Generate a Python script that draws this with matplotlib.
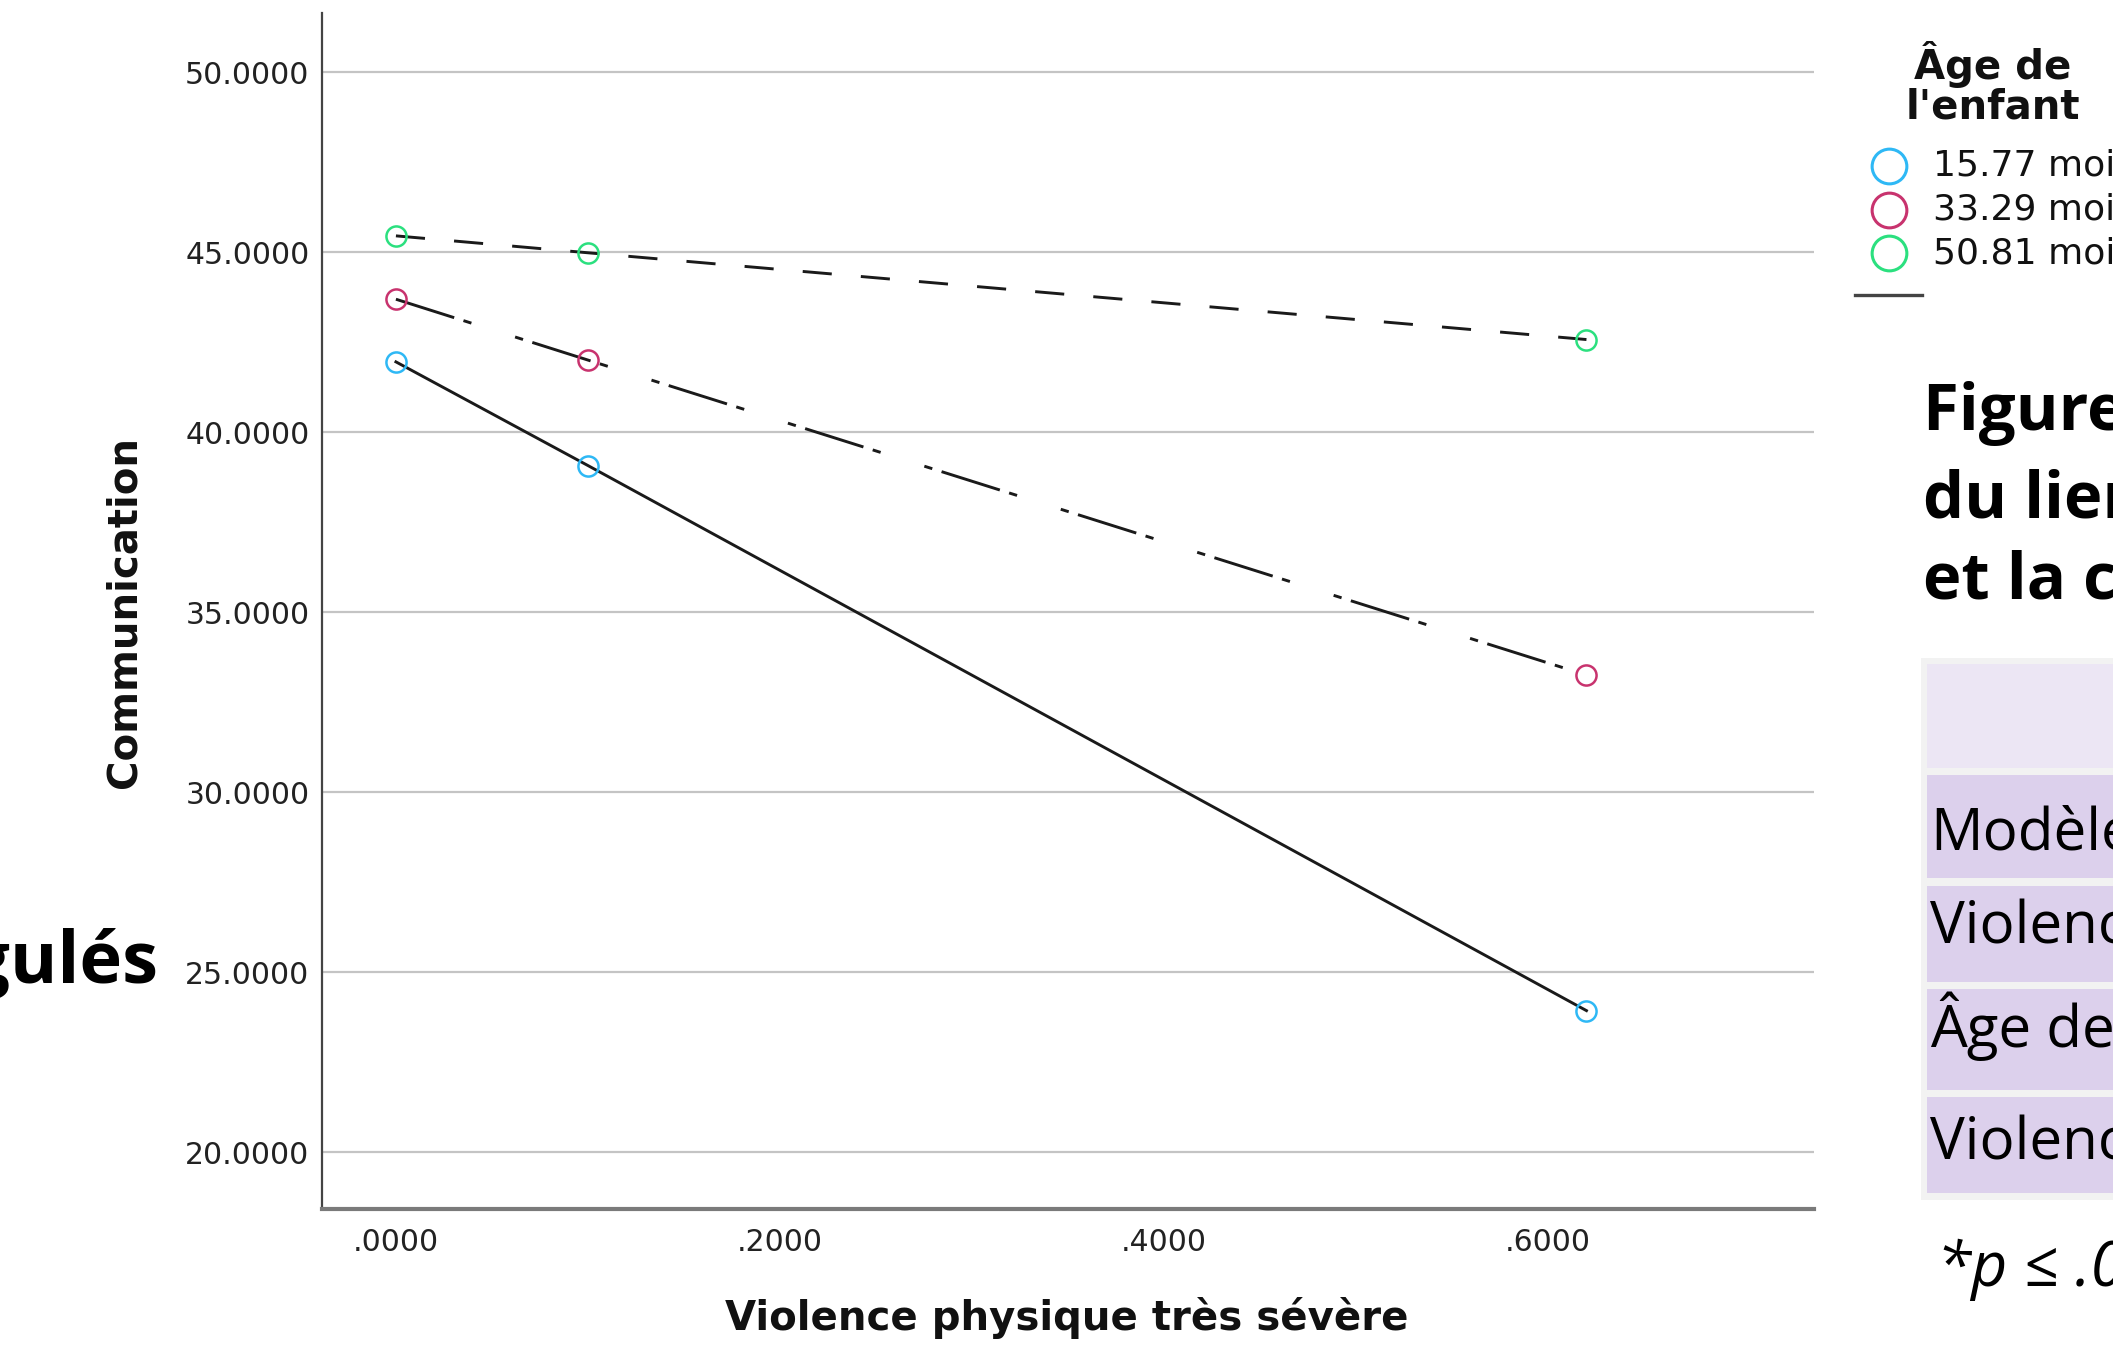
import matplotlib
matplotlib.use("Agg")
import matplotlib.pyplot as plt
from matplotlib.patches import Rectangle
from matplotlib.lines import Line2D

plt.rcParams['lines.scale_dashes'] = False

# ---------------- data ----------------
x_values = [0.0, 0.1, 0.62]
series_labels = ["15.77 mois", "33.29 mois", "50.81 mois"]
age_15 = [41.95, 39.07, 23.93]
age_33 = [43.69, 42.00, 33.25]
age_50 = [45.45, 44.98, 42.57]
y_ticks = [20, 25, 30, 35, 40, 45, 50]
y_tick_labels = ["20.0000", "25.0000", "30.0000", "35.0000", "40.0000", "45.0000", "50.0000"]
x_ticks = [0.0, 0.2, 0.4, 0.6]
x_tick_labels = [".0000", ".2000", ".4000", ".6000"]
table_rows = ["Modèle", "Violence physique très sévère", "Âge de l'enfant", "Violence × Âge"]

W, H = 2113, 1348
fig = plt.figure(figsize=(W / 100, H / 100), dpi=100)


def fx(x):
    return x / W


def fy(y):
    return 1 - y / H


colors = ['#2EB8F5', '#C8336E', '#2BE07F']
styles = ['-', (0, (44, 7, 6, 33, 6, 7)), (0, (21, 21))]
series = [age_15, age_33, age_50]

ax = fig.add_axes([fx(322), fy(1209), fx(1814) - fx(322), fy(13) - fy(1209)])
for vals, c, ls in zip(series, colors, styles):
    ax.plot(x_values, vals, color='#1a1a1a', lw=2.1, linestyle=ls, zorder=3)
    ax.plot(x_values, vals, linestyle='none', marker='o', markersize=14.5,
            markerfacecolor='none', markeredgecolor=c, markeredgewidth=1.8, zorder=4)

ax.set_xlim(-0.0385, 0.7385)
ax.set_ylim(18.42, 51.64)
ax.set_yticks(y_ticks)
ax.set_yticklabels(y_tick_labels)
ax.set_xticks(x_ticks)
ax.set_xticklabels(x_tick_labels)
ax.tick_params(axis='both', length=0, labelsize=21.5, colors='#222222')
ax.tick_params(axis='y', pad=9)
ax.tick_params(axis='x', pad=14)
ax.yaxis.grid(True, color='#c4c4c4', lw=1.6)
ax.set_axisbelow(True)
for s in ['top', 'right']:
    ax.spines[s].set_visible(False)
ax.spines['left'].set_color('#444444')
ax.spines['left'].set_linewidth(1.6)
ax.spines['bottom'].set_color('#7a7a7a')
ax.spines['bottom'].set_linewidth(3)

# axis labels
fig.text(fx(124), fy(612), "Communication", rotation=90, ha='center', va='center',
         fontsize=29, fontweight='bold', color='#111111')
fig.text(fx(1067), fy(1318), "Violence physique très sévère", ha='center', va='center',
         fontsize=29, fontweight='bold', color='#111111')

# legend (manual)
fig.text(fx(1993), fy(84), "Âge de\nl'enfant", ha='center', va='center', fontsize=29,
         fontweight='bold', linespacing=1.0, color='#111111')
for i, (lab, c) in enumerate(zip(series_labels, colors)):
    yy = [166, 210, 253][i]
    fig.add_artist(Line2D([fx(1889)], [fy(yy)], marker='o', markersize=25, markerfacecolor='none',
                          markeredgecolor=c, markeredgewidth=2.2, transform=fig.transFigure))
    fig.text(fx(1933), fy(yy), lab, ha='left', va='center', fontsize=26, color='#111111')
fig.add_artist(Line2D([fx(1855), fx(1922)], [fy(295), fy(295)], color='#444444', lw=2.4,
                      transform=fig.transFigure))

# right-side figure caption
caption = ["Figure 3. Effet modérateur de l'âge de l'enfant",
           "du lien entre la violence physique très sévère",
           "et la communication"]
for i, line in enumerate(caption):
    fig.text(fx(1923), fy([414, 501, 582][i]), line, ha='left', va='center', fontsize=47,
             fontweight='bold', family=['Open Sans', 'DejaVu Sans'], color='black')

# table
fig.add_artist(Rectangle((fx(1921), fy(1200)), 1 - fx(1921), fy(658) - fy(1200),
                         transform=fig.transFigure, facecolor='#F2F2F2', edgecolor='none'))
fig.add_artist(Rectangle((fx(1927), fy(768)), 1 - fx(1927), fy(664) - fy(768),
                         transform=fig.transFigure, facecolor='#ECE6F4', edgecolor='none'))
row_bounds = [(775, 878), (886, 982), (989, 1090), (1097, 1193)]
row_baselines = [849, 943, 1047, 1159]
for (top, bot), base, txt in zip(row_bounds, row_baselines, table_rows):
    fig.add_artist(Rectangle((fx(1927), fy(bot)), 1 - fx(1927), fy(top) - fy(bot),
                             transform=fig.transFigure, facecolor='#DCD0EC', edgecolor='none'))
    fig.text(fx(1930), fy(base), txt, ha='left', va='baseline', fontsize=42,
             family=['Open Sans', 'DejaVu Sans'], color='black')

fig.text(fx(1937), fy(1270), "*p ≤ .05", ha='left', va='center', fontsize=45, style='italic',
         family=['Open Sans', 'DejaVu Sans'], color='black')

# left cut-off title fragment
fig.text(fx(158), fy(983), "émotionnellement dérégulés", ha='right', va='baseline', fontsize=52,
         fontweight='bold', family=['Open Sans', 'DejaVu Sans'], color='black')

fig.savefig("out.png", dpi=100)
